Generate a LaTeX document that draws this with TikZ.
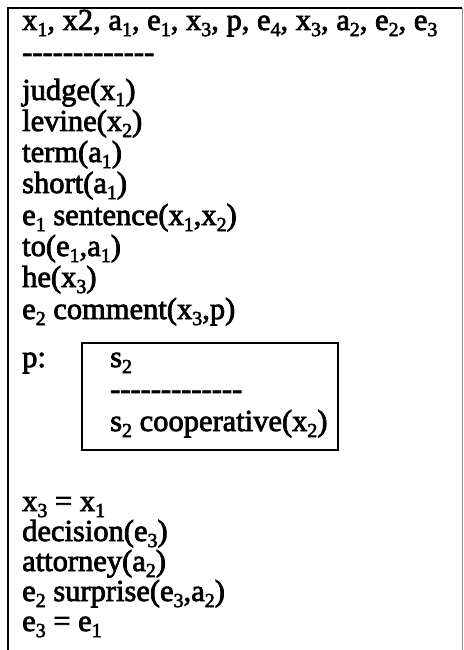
\documentclass[tikz,border=0pt]{standalone}
\usepackage{fontspec}
\newfontfamily\scanfont{Liberation Serif}[FakeBold=2.5]
\newcommand\lo[1]{\raisebox{-0.2em}{\fontsize{20}{20}\selectfont #1}}
\newcommand\hy{\mbox{-}}
\newcommand\hyrow{\hy\hy\hy\hy\hy\hy\hy\hy\hy\hy\hy\hy\hy}
\tikzset{
  ln/.style={anchor=base west, inner sep=0pt, font=\scanfont\fontsize{30.5}{30.5}\selectfont},
  frame/.style={line width=2pt, black},
}
\begin{document}
\begin{tikzpicture}[x=1pt,y=-1pt]
\useasboundingbox (0,0) rectangle (463,650);
\fill[white] (0,0) rectangle (463,650);
% outer frame
\coordinate (tl) at (8,8);
\coordinate (tr) at (462,8);
\coordinate (bl) at (8,650);
\coordinate (br) at (462,650);
\draw[frame] (bl) -- (tl) -- (tr);
\draw[line width=0.6pt, black!45] (tr) -- (br);
% lines
\node[ln] (l1) at (22,30) {x\lo{1}, x2, a\lo{1}, e\lo{1}, x\lo{3}, p, e\lo{4}, x\lo{3}, a\lo{2}, e\lo{2}, e\lo{3}};
\node[ln] (d1) at (22,62) {\hyrow};
\node[ln] (l3) at (22,100) {judge(x\lo{1})};
\node[ln] (l4) at (22,131) {levine(x\lo{2})};
\node[ln] (l5) at (22,162) {term(a\lo{1})};
\node[ln] (l6) at (22,193) {short(a\lo{1})};
\node[ln] (l7) at (22,225) {e\lo{1} sentence(x\lo{1},x\lo{2})};
\node[ln] (l8) at (22,256) {to(e\lo{1},a\lo{1})};
\node[ln] (l9) at (22,287) {he(x\lo{3})};
\node[ln] (l10) at (22,319) {e\lo{2} comment(x\lo{3},p)};
\node[ln] (lp) at (22,367) {p:};
% inner box
\draw[frame] (82,343) rectangle (338,450);
\node[ln] (s1) at (110,367) {s\lo{2}};
\node[ln] (d2) at (110,399) {\hyrow};
\node[ln] (s3) at (110,431) {s\lo{2} cooperative(x\lo{2})};
% lower lines
\node[ln] (m1) at (22,511) {x\lo{3} = x\lo{1}};
\node[ln] (m2) at (22,541) {decision(e\lo{3})};
\node[ln] (m3) at (22,571) {attorney(a\lo{2})};
\node[ln] (m4) at (22,601) {e\lo{2} surprise(e\lo{3},a\lo{2})};
\node[ln] (m5) at (22,631) {e\lo{3} = e\lo{1}};
\end{tikzpicture}
\end{document}
